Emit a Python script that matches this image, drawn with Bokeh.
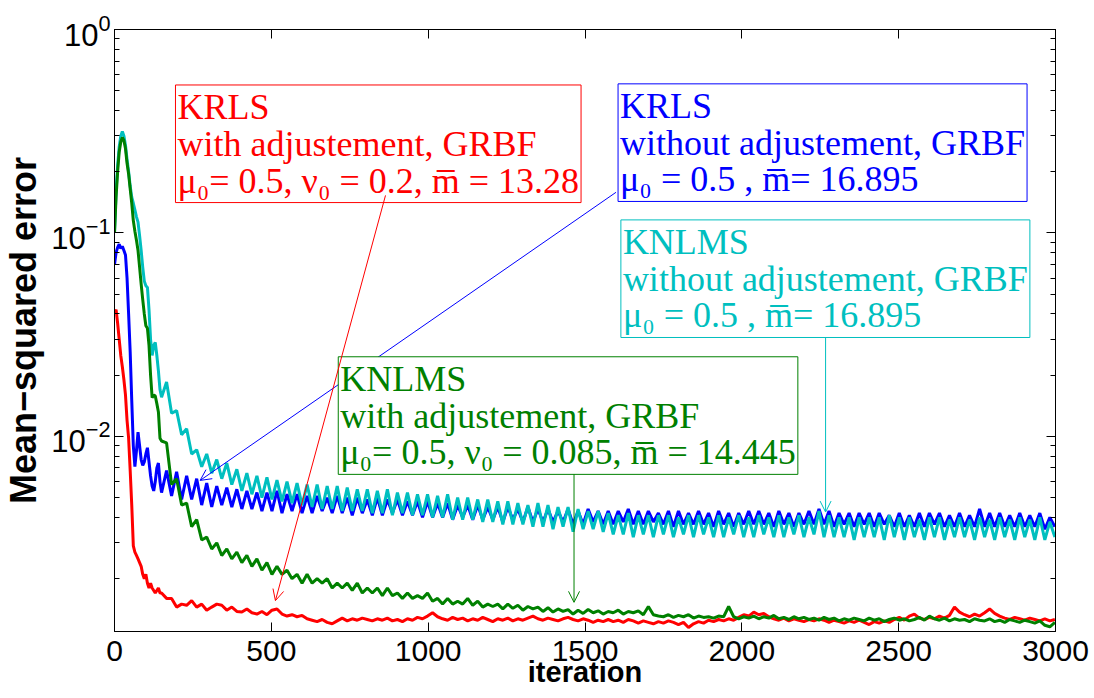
from bokeh.plotting import figure
from bokeh.models import (Range1d, LogAxis, LinearAxis, Label, Arrow, OpenHead,
                          FixedTicker, LogTicker, CustomJSTickFormatter)
from bokeh.embed import file_html
from bokeh.resources import INLINE

# ---------------- data ----------------
iters_early = list(range(0, 150, 5))
iters_late = list(range(150, 3000, 16))
iterations = iters_early + iters_late

x_ticks = [0, 500, 1000, 1500, 2000, 2500, 3000]

red_early = [0.040, 0.042, 0.036, 0.030, 0.025, 0.022, 0.019, 0.016, 0.012, 0.0098,
             0.0068, 0.0046, 0.0029, 0.0027, 0.0026, 0.0025, 0.0024, 0.0023, 0.0021, 0.0020,
             0.0021, 0.0019, 0.0018, 0.0019, 0.0018, 0.00175, 0.0017, 0.00175, 0.0018, 0.0017]
red_late = [
    0.0017, 0.0016, 0.0016, 0.00145, 0.0015, 0.00148, 0.00156, 0.00145, 0.0015, 0.0014,
    0.00145, 0.0015, 0.00148, 0.0014, 0.00145, 0.00138, 0.00137, 0.00142, 0.00136, 0.00134,
    0.00138, 0.00133, 0.0014, 0.00142, 0.00134, 0.00131, 0.00133, 0.0013, 0.00132, 0.00127,
    0.00125, 0.00123, 0.00126, 0.00122, 0.0012, 0.00124, 0.00128, 0.00124, 0.00127, 0.00125,
    0.00128, 0.00126, 0.00124, 0.00127, 0.00125, 0.00128, 0.00124, 0.00126, 0.00123, 0.00127,
    0.00125, 0.00129, 0.00127, 0.00131, 0.00136, 0.0013, 0.00127, 0.00125, 0.00129, 0.00126,
    0.00128, 0.00124, 0.00127, 0.00125, 0.00129, 0.00126, 0.00123, 0.00127, 0.00125, 0.00128,
    0.00124, 0.00127, 0.00125, 0.00128, 0.00131, 0.00127, 0.00125, 0.00128, 0.00126, 0.00124,
    0.00127, 0.00129, 0.00126, 0.00124, 0.00127, 0.00125, 0.00122, 0.00125, 0.00123, 0.00126,
    0.00123, 0.00125, 0.00122, 0.00126, 0.00124, 0.00121, 0.00124, 0.00122, 0.0012, 0.00123,
    0.00121, 0.00124, 0.00122, 0.00119, 0.00122, 0.00115, 0.0012, 0.00123, 0.00121, 0.00125,
    0.00123, 0.00126, 0.00124, 0.00127, 0.00125, 0.00129, 0.00133, 0.00131, 0.00137, 0.00133,
    0.00135, 0.0013, 0.00127, 0.00125, 0.00128, 0.00124, 0.00127, 0.00125, 0.00123, 0.00126,
    0.00124, 0.00127, 0.00125, 0.00122, 0.00125, 0.00123, 0.00121, 0.00124, 0.00122, 0.00125,
    0.00122, 0.00119, 0.00123, 0.00121, 0.00124, 0.00122, 0.00126, 0.00129, 0.00125, 0.00131,
    0.00134, 0.00128, 0.00126, 0.00129, 0.00127, 0.00131, 0.00128, 0.00132, 0.00145, 0.00137,
    0.00133, 0.0013, 0.00134, 0.00131, 0.00136, 0.00142, 0.00135, 0.00131, 0.00128, 0.00126,
    0.00129, 0.00127, 0.00125, 0.00128, 0.00126, 0.00124, 0.00127, 0.00124, 0.00126]

green_early = [0.100, 0.150, 0.200, 0.250, 0.280, 0.295, 0.285, 0.260, 0.220, 0.195,
               0.165, 0.140, 0.115, 0.102, 0.092, 0.082, 0.068, 0.056, 0.047, 0.040,
               0.035, 0.034, 0.028, 0.020, 0.0155, 0.0160, 0.0158, 0.0145, 0.0132, 0.0098]
green_late = [
    0.0095, 0.0093, 0.0058, 0.0062, 0.0046, 0.0047, 0.0036, 0.0039, 0.0031, 0.0032,
    0.0028, 0.0030, 0.0026, 0.0028, 0.0025, 0.0027, 0.0024, 0.0026, 0.0023, 0.0025,
    0.0022, 0.0024, 0.0021, 0.0023, 0.0021, 0.0022, 0.0020, 0.0021, 0.0019, 0.0021,
    0.0019, 0.0020, 0.0019, 0.0020, 0.0018, 0.0019, 0.0018, 0.0019, 0.00175, 0.0019,
    0.0017, 0.0018, 0.0017, 0.0018, 0.00165, 0.0018, 0.00165, 0.0017, 0.0016, 0.0017,
    0.0016, 0.00165, 0.0016, 0.0017, 0.00155, 0.0016, 0.0015, 0.0016, 0.0015, 0.00155,
    0.0015, 0.0016, 0.00148, 0.00155, 0.00145, 0.0015, 0.00146, 0.0015, 0.00142, 0.0015,
    0.00143, 0.00148, 0.0014, 0.00146, 0.00142, 0.00145, 0.00138, 0.00144, 0.00137, 0.00142,
    0.00138, 0.00141, 0.00134, 0.0014, 0.00135, 0.00141, 0.00136, 0.00139, 0.00134, 0.00138,
    0.00136, 0.0014, 0.00134, 0.00138, 0.00136, 0.00139, 0.00133, 0.00146, 0.00133, 0.00131,
    0.0013, 0.00133, 0.00129, 0.00132, 0.0013, 0.00133, 0.00128, 0.00131, 0.00129, 0.0013,
    0.00128, 0.00131, 0.0013, 0.00146, 0.0013, 0.00127, 0.0013, 0.00128, 0.00131, 0.00127,
    0.0013, 0.00128, 0.00132, 0.00127, 0.00129, 0.00126, 0.0013, 0.00127, 0.00129, 0.00126,
    0.00128, 0.00125, 0.00129, 0.00126, 0.00128, 0.00124, 0.00127, 0.00125, 0.00128, 0.00126,
    0.00124, 0.00128, 0.00125, 0.00127, 0.00123, 0.00126, 0.00128, 0.00125, 0.00127, 0.00124,
    0.00126, 0.00129, 0.00125, 0.00131, 0.00127, 0.00125, 0.00128, 0.00124, 0.00127, 0.00125,
    0.00126, 0.00123, 0.00127, 0.00125, 0.00124, 0.00127, 0.00123, 0.00125, 0.00122, 0.00126,
    0.00124, 0.00122, 0.00125, 0.00123, 0.00121, 0.00124, 0.00118, 0.00116, 0.00122]

blue_early = [0.070, 0.080, 0.085, 0.088, 0.084, 0.086, 0.082, 0.078, 0.060, 0.040,
              0.026, 0.015, 0.0090, 0.0071, 0.0085, 0.0105, 0.0090, 0.0077, 0.0072, 0.0075,
              0.0082, 0.0088, 0.0075, 0.0064, 0.0057, 0.0054, 0.0060, 0.0070, 0.0074, 0.0060]
blue_late = [
    0.0053, 0.0068, 0.0051, 0.0067, 0.0049, 0.0064, 0.0049, 0.0062, 0.0046, 0.0059,
    0.0045, 0.0057, 0.0046, 0.0056, 0.0045, 0.0055, 0.0044, 0.0054, 0.0044, 0.0053,
    0.0043, 0.0053, 0.0043, 0.0054, 0.0042, 0.0052, 0.0043, 0.0052, 0.0042, 0.0051,
    0.0042, 0.0051, 0.0043, 0.0050, 0.0042, 0.0051, 0.0042, 0.0050, 0.0041, 0.0050,
    0.0042, 0.0049, 0.0041, 0.0050, 0.0041, 0.0049, 0.0042, 0.0049, 0.0041, 0.0048,
    0.0041, 0.0048, 0.0040, 0.0048, 0.0040, 0.0047, 0.0040, 0.0047, 0.0039, 0.0046,
    0.0040, 0.0046, 0.0039, 0.0046, 0.0039, 0.0045, 0.0039, 0.0045, 0.0038, 0.0045,
    0.0039, 0.0044, 0.0038, 0.0045, 0.0038, 0.0044, 0.0038, 0.0044, 0.0038, 0.0043,
    0.0038, 0.0044, 0.0037, 0.0043, 0.0037, 0.0044, 0.0038, 0.0043, 0.0037, 0.0043,
    0.0037, 0.0043, 0.0038, 0.0044, 0.0037, 0.0043, 0.0037, 0.0043, 0.0038, 0.0042,
    0.0037, 0.0043, 0.0036, 0.0043, 0.0037, 0.0042, 0.0037, 0.0043, 0.0037, 0.0042,
    0.0036, 0.0043, 0.0037, 0.0042, 0.0036, 0.0042, 0.0037, 0.0043, 0.0037, 0.0043,
    0.0037, 0.0042, 0.0036, 0.0043, 0.0037, 0.0042, 0.0036, 0.0042, 0.0037, 0.0043,
    0.0037, 0.0044, 0.0037, 0.0043, 0.0036, 0.0042, 0.0037, 0.0042, 0.0036, 0.0042,
    0.0037, 0.0042, 0.0036, 0.0042, 0.0037, 0.0041, 0.0036, 0.0042, 0.0036, 0.0041,
    0.0036, 0.0042, 0.0036, 0.0042, 0.0037, 0.0042, 0.0036, 0.0041, 0.0036, 0.0042,
    0.0036, 0.0041, 0.0036, 0.0044, 0.0036, 0.0042, 0.0036, 0.0042, 0.0036, 0.0041,
    0.0036, 0.0042, 0.0036, 0.0041, 0.0036, 0.0042, 0.0035, 0.0040, 0.0036]

cyan_early = [0.100, 0.160, 0.215, 0.265, 0.300, 0.315, 0.300, 0.270, 0.230, 0.200,
              0.170, 0.150, 0.140, 0.130, 0.120, 0.113, 0.097, 0.082, 0.068, 0.058,
              0.055, 0.054, 0.042, 0.030, 0.025, 0.028, 0.029, 0.025, 0.021, 0.017]
cyan_late = [
    0.0156, 0.0185, 0.0130, 0.0134, 0.0102, 0.0109, 0.0082, 0.0086, 0.0071, 0.0082,
    0.0066, 0.0077, 0.0062, 0.0074, 0.0058, 0.0069, 0.0054, 0.0066, 0.0052, 0.0064,
    0.0050, 0.0063, 0.0049, 0.0061, 0.0048, 0.0060, 0.0047, 0.0059, 0.0046, 0.0058,
    0.0045, 0.0058, 0.0044, 0.0057, 0.0044, 0.0057, 0.0043, 0.0056, 0.0043, 0.0055,
    0.0043, 0.0055, 0.0042, 0.0054, 0.0042, 0.0055, 0.0041, 0.0053, 0.0042, 0.0053,
    0.0041, 0.0052, 0.0041, 0.0052, 0.0040, 0.0051, 0.0040, 0.0052, 0.0039, 0.0050,
    0.0039, 0.0050, 0.0039, 0.0049, 0.0038, 0.0049, 0.0038, 0.0048, 0.0037, 0.0048,
    0.0037, 0.0047, 0.0037, 0.0046, 0.0036, 0.0047, 0.0036, 0.0046, 0.0035, 0.0045,
    0.0036, 0.0045, 0.0034, 0.0044, 0.0035, 0.0043, 0.0035, 0.0043, 0.0034, 0.0042,
    0.0033, 0.0041, 0.0033, 0.0042, 0.0032, 0.0041, 0.0033, 0.0041, 0.0032, 0.0041,
    0.0033, 0.0041, 0.0032, 0.0040, 0.0033, 0.0041, 0.0032, 0.0041, 0.0033, 0.0040,
    0.0032, 0.0041, 0.0032, 0.0040, 0.0033, 0.0041, 0.0032, 0.0040, 0.0032, 0.0041,
    0.0033, 0.0040, 0.0032, 0.0041, 0.0032, 0.0040, 0.0033, 0.0041, 0.0032, 0.0040,
    0.0033, 0.0043, 0.0032, 0.0041, 0.0032, 0.0040, 0.0032, 0.0040, 0.0031, 0.0040,
    0.0032, 0.0040, 0.0032, 0.0040, 0.0031, 0.0041, 0.0032, 0.0040, 0.0031, 0.0040,
    0.0032, 0.0039, 0.0031, 0.0040, 0.0032, 0.0040, 0.0031, 0.0039, 0.0032, 0.0040,
    0.0032, 0.0039, 0.0031, 0.0040, 0.0032, 0.0039, 0.0031, 0.0040, 0.0032, 0.0039,
    0.0031, 0.0040, 0.0032, 0.0039, 0.0031, 0.0040, 0.0031, 0.0038, 0.0032]

mse_red = red_early + red_late        # KRLS with adjustement
mse_green = green_early + green_late  # KNLMS with adjustement
mse_blue = blue_early + blue_late     # KRLS without adjustement
mse_cyan = cyan_early + cyan_late     # KNLMS without adjustement

# ---------------- annotations ----------------
RED, GREEN, BLUE, CYAN = "#FF0000", "#008000", "#0000FF", "#00BFBF"
boxes = [
    # (top-left iteration, top-left mse, text, color)
    (188, 0.546, "KRLS\nwith adjustement, GRBF\nμ₀= 0.5, ν₀ = 0.2, m̅ = 13.28", RED),
    (1599, 0.553, "KRLS\nwithout adjustement, GRBF\nμ₀ = 0.5 , m̅= 16.895", BLUE),
    (1608, 0.1186, "KNLMS\nwithout adjustement, GRBF\nμ₀ = 0.5 , m̅= 16.895", CYAN),
    (707, 0.0252, "KNLMS\nwith adjustement, GRBF\nμ₀= 0.5, ν₀ = 0.085, m̅ = 14.445", GREEN),
]
arrows_under = [
    # (x_start, y_start, x_end, y_end, color)
    (1599, 0.1585, 273, 0.00608, BLUE),
    (2267, 0.033, 2267, 0.00425, CYAN),
    (1465, 0.00703, 1465, 0.00153, GREEN),
]
arrows_over = [
    (864, 0.153, 513, 0.00156, RED),
]

# ---------------- figure ----------------
p = figure(width=1090, height=698, y_axis_type="log",
           x_range=Range1d(0, 3000), y_range=Range1d(1.1e-3, 1.0),
           output_backend="svg", toolbar_location=None,
           min_border_left=114, min_border_right=35,
           min_border_top=29, min_border_bottom=67)
p.background_fill_color = "white"
p.border_fill_color = "white"
p.outline_line_color = "black"
p.outline_line_width = 1
p.grid.visible = False

AX_FONT = "Liberation Sans"

# bottom axis
p.xaxis.ticker = FixedTicker(ticks=x_ticks)
p.xaxis.major_label_text_font = AX_FONT
p.xaxis.major_label_text_font_size = "30px"
p.xaxis.major_label_text_color = "black"
p.xaxis.major_label_standoff = 9
p.xaxis.major_tick_in = 9
p.xaxis.major_tick_out = 0
p.xaxis.minor_tick_line_color = None
p.xaxis.axis_line_color = "black"
p.xaxis.axis_label = "iteration"
p.xaxis.axis_label_text_font = AX_FONT
p.xaxis.axis_label_text_font_style = "bold"
p.xaxis.axis_label_text_font_size = "29px"
p.xaxis.axis_label_text_color = "black"
p.xaxis.axis_label_standoff = -8

# left axis
p.yaxis.ticker = LogTicker(num_minor_ticks=10)
p.yaxis.major_label_text_font = AX_FONT
p.yaxis.major_label_text_font_size = "31px"
p.yaxis.major_label_text_color = "black"
p.yaxis.major_label_standoff = 4
p.yaxis.major_tick_in = 9
p.yaxis.major_tick_out = 0
p.yaxis.minor_tick_in = 5
p.yaxis.minor_tick_out = 0
p.yaxis.axis_line_color = "black"
p.yaxis.axis_label = "Mean−squared error"
p.yaxis.axis_label_text_font = AX_FONT
p.yaxis.axis_label_text_font_style = "bold"
p.yaxis.axis_label_text_font_size = "36px"
p.yaxis.axis_label_text_color = "black"
p.yaxis.axis_label_standoff = 4

blank = CustomJSTickFormatter(code="return ''")
top_axis = LinearAxis(ticker=FixedTicker(ticks=x_ticks), formatter=blank,
                      major_tick_in=9, major_tick_out=0, minor_tick_line_color=None,
                      major_label_standoff=0, major_label_text_font_size="1px",
                      axis_line_color="black")
right_axis = LogAxis(ticker=LogTicker(num_minor_ticks=10), formatter=blank,
                     major_tick_in=9, major_tick_out=0, minor_tick_in=5, minor_tick_out=0,
                     major_label_standoff=0, major_label_text_font_size="1px",
                     axis_line_color="black")
p.add_layout(top_axis, "above")
p.add_layout(right_axis, "right")

# curves
p.line(iterations, mse_red, line_color=RED, line_width=3)
p.line(iterations, mse_blue, line_color=BLUE, line_width=3)
p.line(iterations, mse_cyan, line_color=CYAN, line_width=3)
p.line(iterations, mse_green, line_color=GREEN, line_width=3)

def add_arrow(xs, ys, xe, ye, c):
    p.add_layout(Arrow(x_start=xs, y_start=ys, x_end=xe, y_end=ye,
                       line_color=c, line_width=1,
                       end=OpenHead(size=11, line_color=c, line_width=1)))

for a in arrows_under:
    add_arrow(*a)

for bx, by, txt, c in boxes:
    p.add_layout(Label(x=bx, y=by, x_offset=2, y_offset=-2, text=txt,
                       text_align="left", text_baseline="top",
                       text_font="Liberation Serif", text_font_size="36px",
                       text_line_height=0.92, text_color=c,
                       border_line_color=c, border_line_width=1,
                       background_fill_color="white", padding=2))

for a in arrows_over:
    add_arrow(*a)

open("out.html", "w").write(file_html(p, INLINE))
